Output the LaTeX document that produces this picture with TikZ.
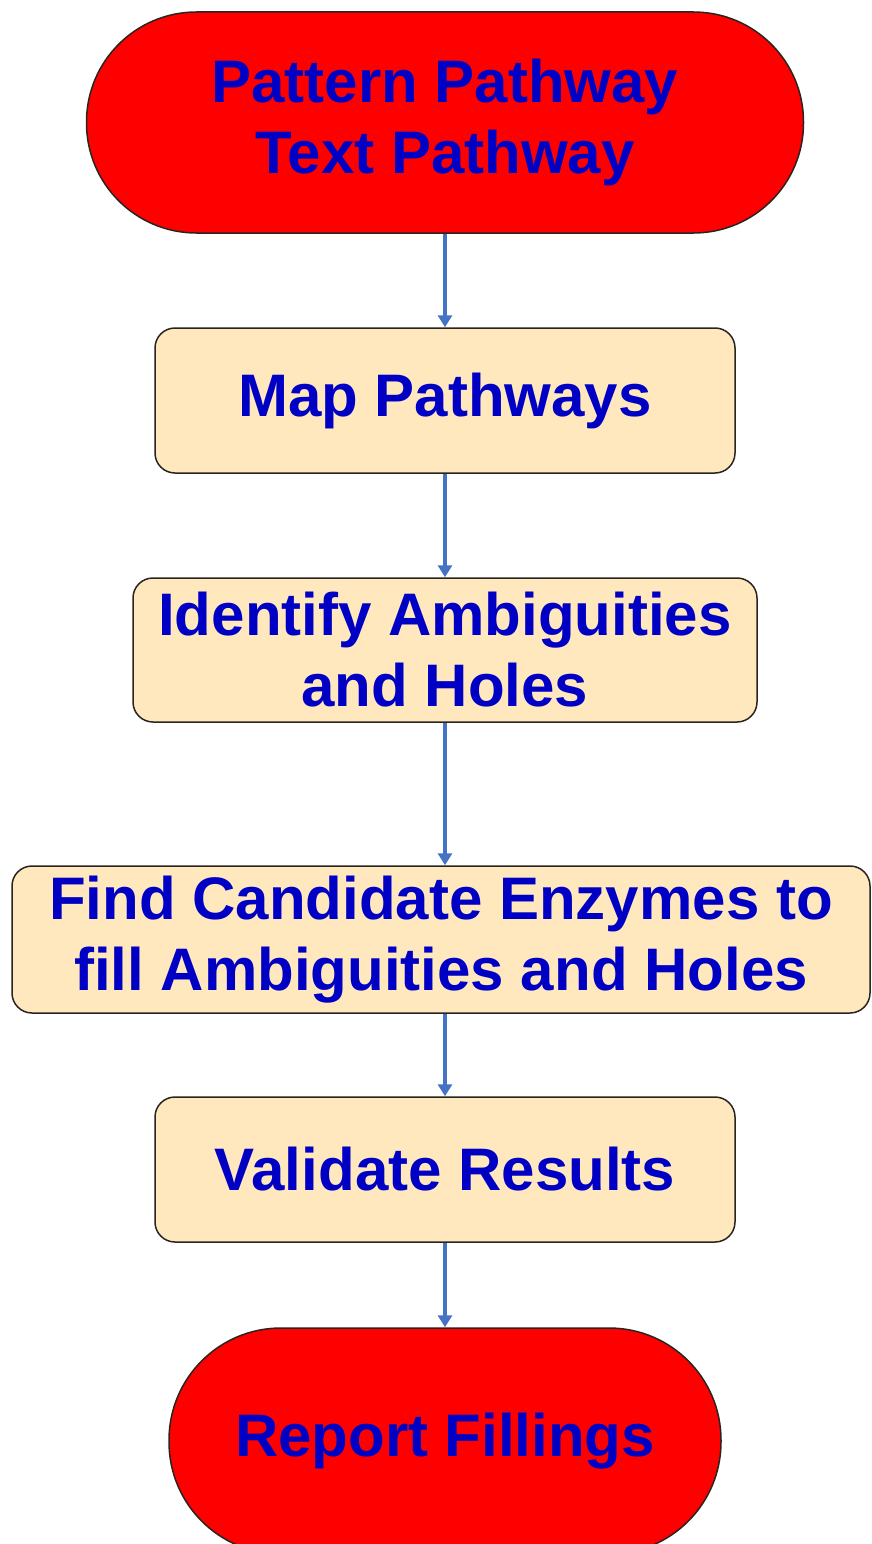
\documentclass[tikz,border=0pt]{standalone}
\usepackage{fontspec}
\setmainfont{Liberation Sans}
\usetikzlibrary{arrows.meta}
\definecolor{termred}{HTML}{FF0000}
\definecolor{boxfill}{HTML}{FFE7BE}
\definecolor{txtblue}{HTML}{0000C4}
\definecolor{arrblue}{HTML}{4472C4}
\definecolor{edgedark}{HTML}{2A2420}
\begin{document}
\begin{tikzpicture}[x=1pt,y=-1pt,
  lbl/.style={align=center, text=txtblue, inner sep=0pt,
    font=\fontsize{60}{71}\selectfont\bfseries},
  term/.style={lbl, draw=edgedark, line width=1.5pt, fill=termred, rounded corners=#1},
  procbox/.style={lbl, draw=edgedark, line width=1.5pt, fill=boxfill, rounded corners=20pt},
  flow/.style={draw=arrblue, line width=4pt, -{Triangle[width=14pt,length=12pt]}}]
\useasboundingbox (0,0) rectangle (871,1544);
\node[term=110pt, minimum width=717pt, minimum height=221pt] (start) at (445,122.5) {Pattern Pathway\\Text Pathway};
\node[procbox, minimum width=580pt, minimum height=145pt] (map) at (445,400.5) {Map Pathways};
\node[procbox, minimum width=624pt, minimum height=144pt] (ident) at (445,650) {Identify Ambiguities\\and Holes};
\node[procbox, minimum width=858pt, minimum height=147pt] (find) at (441,939.5) {Find Candidate Enzymes to\\fill Ambiguities and Holes};
\node[procbox, minimum width=580pt, minimum height=145pt] (valid) at (445,1169.5) {Validate Results};
\node[term=112pt, minimum width=552pt, minimum height=226pt] (report) at (445,1441) {Report Fillings};
\draw[flow] (start.south) -- (map.north);
\draw[flow] (map.south) -- (ident.north);
\draw[flow] (ident.south) -- (find.north -| ident.south);
\draw[flow] (find.south -| ident.south) -- (valid.north);
\draw[flow] (valid.south) -- (report.north);
\end{tikzpicture}
\end{document}
